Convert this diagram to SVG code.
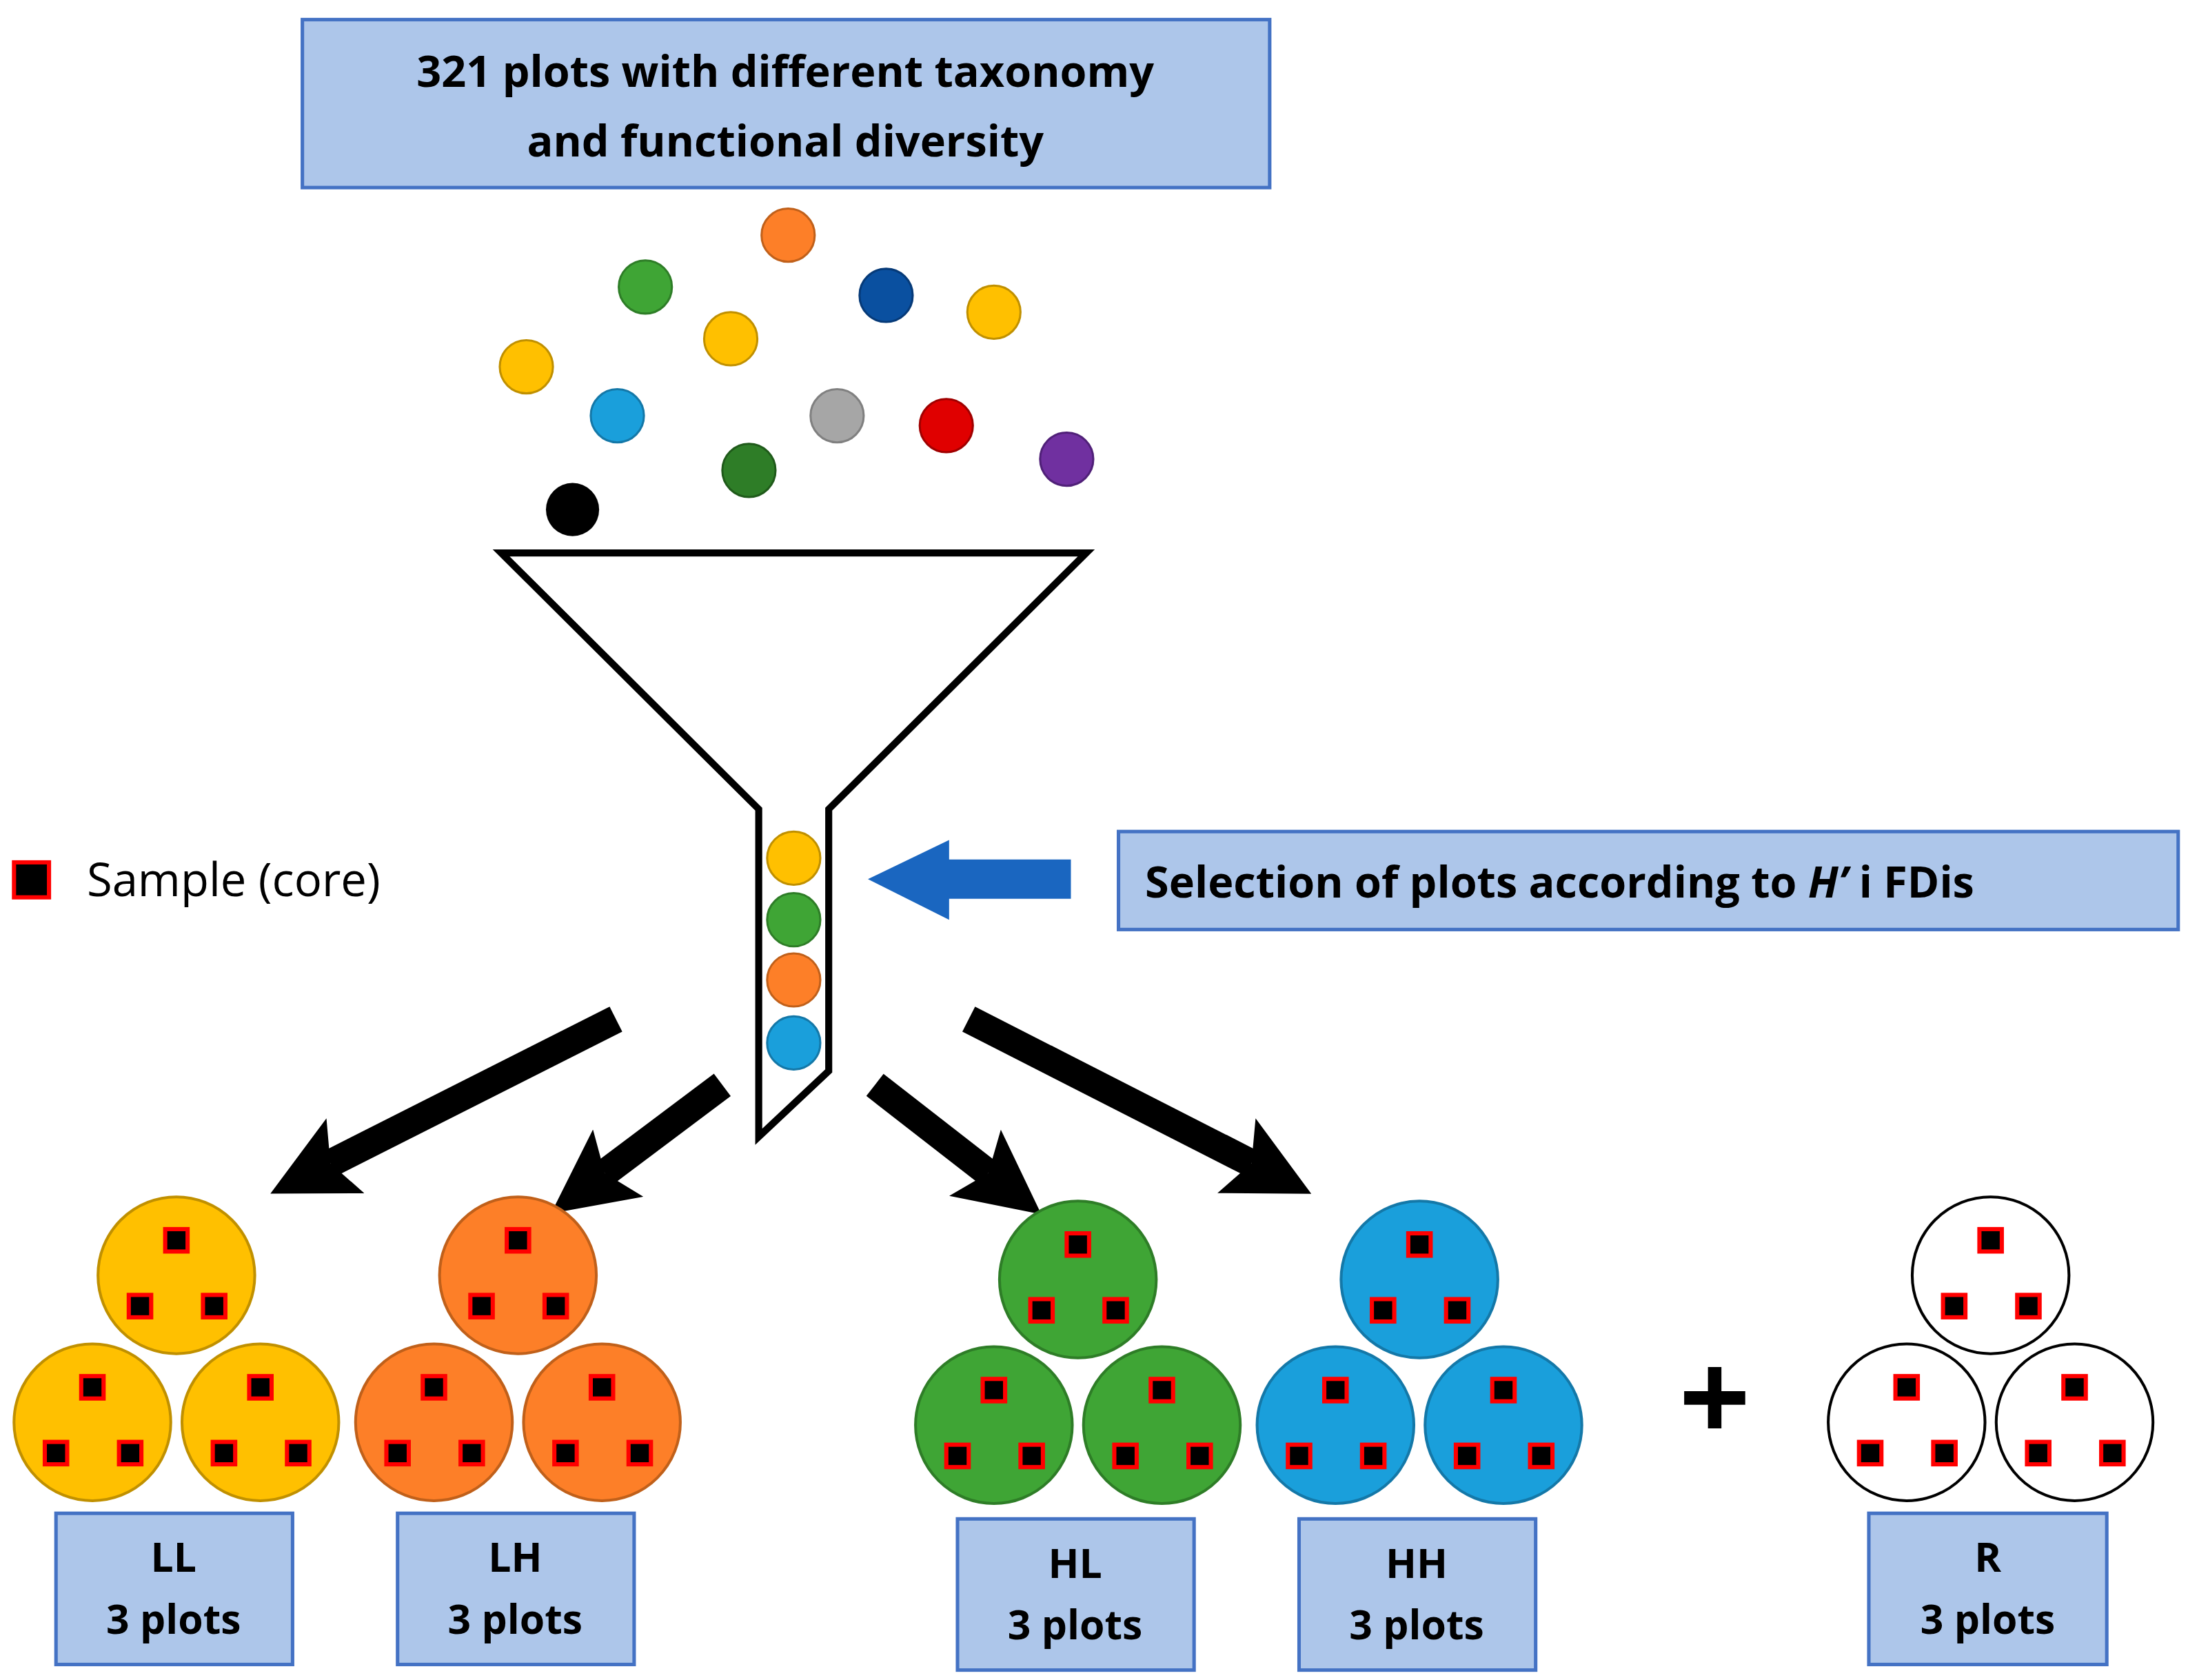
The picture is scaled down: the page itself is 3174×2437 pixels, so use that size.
<svg xmlns="http://www.w3.org/2000/svg" width="3174" height="2437" viewBox="0 0 3174 2437">
<style>
.box{fill:#adc6ea;stroke:#4472c4;stroke-width:2.5}
.t{font-family:"Open Sans","Liberation Sans",sans-serif;font-weight:bold;fill:#000}
.sq{fill:#000;stroke:#f00;stroke-width:3}
.arr{stroke:#000;stroke-width:20;fill:none}
</style>
<defs>
<marker id="ah" markerUnits="userSpaceOnUse" markerWidth="60" markerHeight="60" refX="10" refY="25" orient="auto" viewBox="0 0 50 50"><polygon points="0,0 50,25 0,50 10,25" fill="#000"/></marker>
<g id="sqs"><rect class="sq" x="-8" y="-33" width="16" height="16"/><rect class="sq" x="-34" y="14" width="16" height="16"/><rect class="sq" x="19" y="14" width="16" height="16"/></g>
</defs>
<rect width="3174" height="2437" fill="#fff"/>
<g transform="scale(2.0307)">
<g id="title"><rect class="box" x="216" y="14" width="691" height="120"/>
<text class="t" x="561" y="62" font-size="31" text-anchor="middle">321 plots with different taxonomy</text>
<text class="t" x="561" y="112" font-size="31" text-anchor="middle">and functional diversity</text></g>
<g id="balls" stroke-width="1.5">
<circle cx="563" cy="168" r="19" fill="#fd7f28" stroke="#c0601a"/>
<circle cx="461" cy="205" r="19" fill="#3fa535" stroke="#2e7d27"/>
<circle cx="633" cy="211" r="19" fill="#0a50a0" stroke="#063a78"/>
<circle cx="710" cy="223" r="19" fill="#ffc000" stroke="#c09000"/>
<circle cx="376" cy="262" r="19" fill="#ffc000" stroke="#c09000"/>
<circle cx="522" cy="242" r="19" fill="#ffc000" stroke="#c09000"/>
<circle cx="441" cy="297" r="19" fill="#1a9fdb" stroke="#1478a8"/>
<circle cx="598" cy="297" r="19" fill="#a6a6a6" stroke="#808080"/>
<circle cx="676" cy="304" r="19" fill="#e00000" stroke="#a00000"/>
<circle cx="762" cy="328" r="19" fill="#7030a0" stroke="#502078"/>
<circle cx="535" cy="336" r="19" fill="#2e7d27" stroke="#1f5a1a"/>
<circle cx="409" cy="364" r="19" fill="#000"/>
</g>
<g id="funnel"><polygon points="358,395 776,395 592,578 592,765 542,812 542,578" fill="#fff" stroke="#000" stroke-width="5"/>
<circle cx="567" cy="613" r="19" fill="#ffc000" stroke="#c09000" stroke-width="1.5"/>
<circle cx="567" cy="657" r="19" fill="#3fa535" stroke="#2e7d27" stroke-width="1.5"/>
<circle cx="567" cy="700" r="19" fill="#fd7f28" stroke="#c0601a" stroke-width="1.5"/>
<circle cx="567" cy="745" r="19" fill="#1a9fdb" stroke="#1478a8" stroke-width="1.5"/></g>
<g id="selection"><rect class="box" x="799" y="594" width="757" height="70"/>
<text class="t" x="818" y="641" font-size="31">Selection of plots according to <tspan font-style="italic">H’</tspan> i FDis</text></g>
<g id="legend"><rect x="10" y="616" width="25" height="25" fill="#000" stroke="#f00" stroke-width="3"/>
<text x="62" y="640" font-size="33" font-family="Open Sans,Liberation Sans,sans-serif">Sample (core)</text></g>
<g id="connectors">
<polygon points="620,628 678,600 678,614 765,614 765,642 678,642 678,657" fill="#1a66c0"/>
<line class="arr" x1="440" y1="728" x2="236" y2="831" marker-end="url(#ah)"/>
<line class="arr" x1="516" y1="775" x2="432" y2="838" marker-end="url(#ah)"/>
<line class="arr" x1="625" y1="775" x2="706" y2="838" marker-end="url(#ah)"/>
<line class="arr" x1="692" y1="728" x2="894" y2="831" marker-end="url(#ah)"/>
</g>
<g id="LL"><g fill="#ffc000" stroke="#c09000" stroke-width="2"><circle cx="126" cy="911" r="56"/><circle cx="66" cy="1016" r="56"/><circle cx="186" cy="1016" r="56"/></g>
<use href="#sqs" x="126" y="911"/><use href="#sqs" x="66" y="1016"/><use href="#sqs" x="186" y="1016"/>
<rect class="box" x="40" y="1081" width="169" height="108"/><text class="t" x="124" y="1123" font-size="29" text-anchor="middle">LL</text><text class="t" x="124" y="1167" font-size="29" text-anchor="middle">3 plots</text></g>
<g id="LH"><g fill="#fd7f28" stroke="#c0601a" stroke-width="2"><circle cx="370" cy="911" r="56"/><circle cx="310" cy="1016" r="56"/><circle cx="430" cy="1016" r="56"/></g>
<use href="#sqs" x="370" y="911"/><use href="#sqs" x="310" y="1016"/><use href="#sqs" x="430" y="1016"/>
<rect class="box" x="284" y="1081" width="169" height="108"/><text class="t" x="368" y="1123" font-size="29" text-anchor="middle">LH</text><text class="t" x="368" y="1167" font-size="29" text-anchor="middle">3 plots</text></g>
<g id="HL"><g fill="#3fa535" stroke="#2e7d27" stroke-width="2"><circle cx="770" cy="914" r="56"/><circle cx="710" cy="1018" r="56"/><circle cx="830" cy="1018" r="56"/></g>
<use href="#sqs" x="770" y="914"/><use href="#sqs" x="710" y="1018"/><use href="#sqs" x="830" y="1018"/>
<rect class="box" x="684" y="1085" width="169" height="108"/><text class="t" x="768" y="1127" font-size="29" text-anchor="middle">HL</text><text class="t" x="768" y="1171" font-size="29" text-anchor="middle">3 plots</text></g>
<g id="HH"><g fill="#1a9fdb" stroke="#1478a8" stroke-width="2"><circle cx="1014" cy="914" r="56"/><circle cx="954" cy="1018" r="56"/><circle cx="1074" cy="1018" r="56"/></g>
<use href="#sqs" x="1014" y="914"/><use href="#sqs" x="954" y="1018"/><use href="#sqs" x="1074" y="1018"/>
<rect class="box" x="928" y="1085" width="169" height="108"/><text class="t" x="1012" y="1127" font-size="29" text-anchor="middle">HH</text><text class="t" x="1012" y="1171" font-size="29" text-anchor="middle">3 plots</text></g>
<text class="t" x="1225" y="1030" font-size="90" text-anchor="middle">+</text>
<g id="R"><g fill="#fff" stroke="#000" stroke-width="2"><circle cx="1422" cy="911" r="56"/><circle cx="1362" cy="1016" r="56"/><circle cx="1482" cy="1016" r="56"/></g>
<use href="#sqs" x="1422" y="911"/><use href="#sqs" x="1362" y="1016"/><use href="#sqs" x="1482" y="1016"/>
<rect class="box" x="1335" y="1081" width="170" height="108"/><text class="t" x="1420" y="1123" font-size="29" text-anchor="middle">R</text><text class="t" x="1420" y="1167" font-size="29" text-anchor="middle">3 plots</text></g>
</g>
</svg>
